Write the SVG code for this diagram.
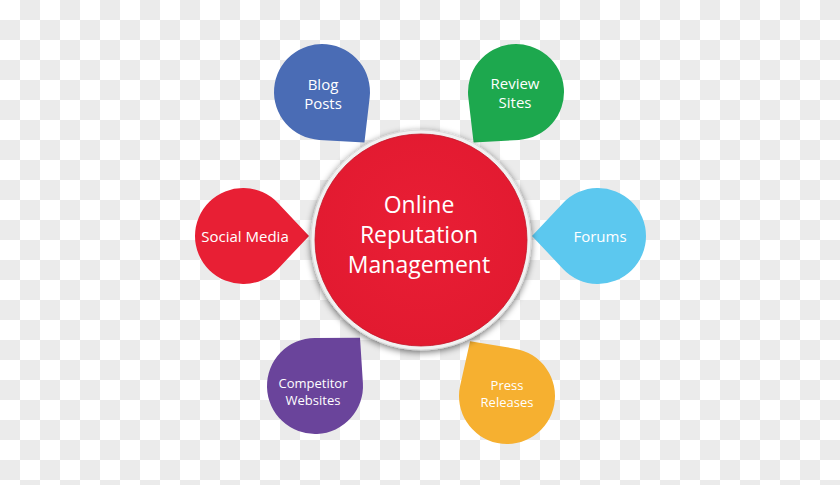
<svg xmlns="http://www.w3.org/2000/svg" width="840" height="485" viewBox="0 0 840 485">
  <defs>
    <pattern id="checker" x="0" y="0" width="40" height="40" patternUnits="userSpaceOnUse">
      <rect width="40" height="40" fill="#ffffff"/>
      <rect x="20" y="0" width="20" height="20" fill="#ebebeb"/>
      <rect x="0" y="20" width="20" height="20" fill="#ebebeb"/>
    </pattern>
    <filter id="shadow" x="-20%" y="-20%" width="140%" height="140%">
      <feGaussianBlur in="SourceAlpha" stdDeviation="3.5"/>
      <feOffset dy="2"/>
      <feComponentTransfer><feFuncA type="linear" slope="0.55"/></feComponentTransfer>
      <feMerge><feMergeNode/><feMergeNode in="SourceGraphic"/></feMerge>
    </filter>
    <radialGradient id="redfill" cx="50%" cy="45%" r="55%">
      <stop offset="0%" stop-color="#e91e35"/>
      <stop offset="100%" stop-color="#e21a30"/>
    </radialGradient>
    <path id="drop" d="M66,0 L34.91,32.94 A48,48 0 1 1 34.91,-32.94 Z"/>
    <style>
      .lbl { font-family: "Open Sans", "Liberation Sans", sans-serif; fill: #ffffff; text-anchor: middle; font-weight: 500; }
      .sm { font-size: 15px; }
      .xs { font-size: 13px; }
      .main { font-family: "Open Sans", "Liberation Sans", sans-serif; fill: #ffffff; text-anchor: middle; font-size: 23px; font-weight: 500; }
    </style>
  </defs>

  <rect x="0" y="0" width="840" height="485" fill="url(#checker)"/>

  <g id="connectors"></g>

  <g id="node-blog-posts">
    <use href="#drop" transform="translate(322,92) rotate(50)" fill="#4a6cb5"/>
    <text class="lbl sm" x="323" y="90">Blog</text>
    <text class="lbl sm" x="323" y="109">Posts</text>
  </g>

  <g id="node-review-sites">
    <use href="#drop" transform="translate(516,92) rotate(130)" fill="#1da84e"/>
    <text class="lbl sm" x="515" y="89">Review</text>
    <text class="lbl sm" x="515" y="108">Sites</text>
  </g>

  <g id="node-social-media">
    <use href="#drop" transform="translate(243,236) rotate(0)" fill="#e81f34"/>
    <text class="lbl sm" x="245" y="242">Social Media</text>
  </g>

  <g id="node-forums">
    <use href="#drop" transform="translate(598,236) rotate(180)" fill="#5cc8ef"/>
    <text class="lbl sm" x="600" y="242">Forums</text>
  </g>

  <g id="node-competitor-websites">
    <use href="#drop" transform="translate(315,386) rotate(-47)" fill="#6a449b"/>
    <text class="lbl xs" x="313" y="388">Competitor</text>
    <text class="lbl xs" x="313" y="405">Websites</text>
  </g>

  <g id="node-press-releases">
    <use href="#drop" transform="translate(507,396) rotate(-124)" fill="#f6b030"/>
    <text class="lbl xs" x="507" y="390">Press</text>
    <text class="lbl xs" x="507" y="407">Releases</text>
  </g>

  <g id="node-center">
    <circle cx="421" cy="240" r="110" fill="#f1f1f1" stroke="#d6d6d6" stroke-width="0.8" filter="url(#shadow)"/>
    <circle cx="421" cy="240" r="106" fill="url(#redfill)" stroke="#c41528" stroke-width="0.8"/>
    <text class="main" x="419" y="213">Online</text>
    <text class="main" x="419" y="243">Reputation</text>
    <text class="main" x="419" y="273">Management</text>
  </g>
</svg>
